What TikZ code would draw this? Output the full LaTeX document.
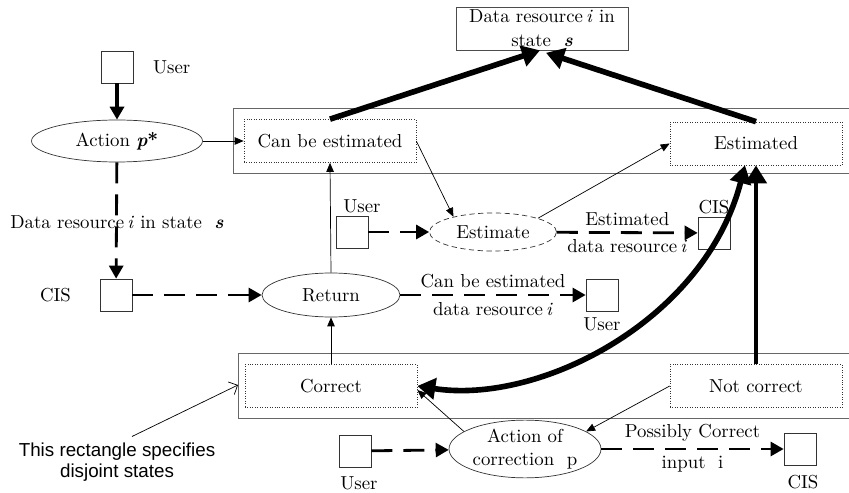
\documentclass[tikz,border=0pt]{standalone}
\usepackage{fontspec}
\newfontfamily\notefont{Liberation Sans}
\usetikzlibrary{arrows.meta, positioning, shapes.geometric}

\tikzset{
    smalltip/.tip={Triangle[length=0.18cm, width=0.15cm]},
    midtip/.tip={Triangle[length=0.26cm, width=0.28cm]},
    bigtip/.tip={Triangle[length=0.36cm, width=0.42cm]},
}

\begin{document}
\begin{tikzpicture}[x=0.02cm, y=-0.02cm,
    every node/.style={font=\fontsize{10.7}{13.5}\selectfont},
    statebox/.style={draw=black!80, densely dotted, minimum width=3.44cm, minimum height=0.86cm},
    actor/.style={draw=black!80, minimum size=0.64cm, inner sep=0pt},
    proc/.style={draw=black!80, ellipse, inner sep=0pt},
    pane/.style={draw=black!60, line width=0.5pt},
    thinflow/.style={-smalltip, line width=0.4pt},
    dataflow/.style={-midtip, line width=1.6pt, dash pattern=on 0.42cm off 0.22cm},
    bigflow/.style={-bigtip, line width=3.2pt}]
    \useasboundingbox (0,0) rectangle (849,493);

    % the two panes of disjoint states, open on the right
    \draw[pane] (849,108) -| (233,173) -- (849,173);
    \draw[pane] (849,353) -| (238,418) -- (849,418);
    \coordinate (paneedge) at (238,385);

    \node[draw=black!70, align=center, minimum width=3.44cm, minimum height=0.86cm, inner sep=0pt] (target) at (542,28.5) {Data resource\,\textit{i} in\\state \ \textbf{\textit{s}}};

    \node[actor] (user1) at (117,67) {};
    \node[right=0.27cm of user1] (user1lbl) {User};
    \node[proc, minimum width=3.42cm, minimum height=0.84cm] (act) at (117,141) {Action \textbf{\textit{p}*}};
    \node (reslbl) at (117,222) {Data resource\,\textit{i} in state \ \textbf{\textit{s}}};
    \node[actor] (cis1) at (116,295) {};
    \node[left=0.45cm of cis1] (cis1lbl) {CIS};

    \node[statebox] (canest) at (330,141) {Can be estimated};
    \node[statebox] (estd) at (756,143.5) {Estimated};
    \node[proc, minimum width=2.76cm, minimum height=0.88cm] (ret) at (331,295) {Return};
    \node[actor] (user2) at (352,232) {};
    \node[above=-2pt of user2, xshift=0.2cm] (user2lbl) {User};
    \node[proc, densely dashed, minimum width=2.54cm, minimum height=0.76cm] (est) at (493,232) {Estimate};
    \node[actor] (cis2) at (714,233) {};
    \node[above=-2pt of cis2] (cis2lbl) {CIS};
    \node[actor] (user3) at (602,295) {};
    \node[below=0pt of user3] (user3lbl) {User};

    \node[statebox] (corr) at (331,386) {Correct};
    \node[statebox] (ncorr) at (756,386) {Not correct};
    \node[actor] (user4) at (355,451) {};
    \node[below=2pt of user4, xshift=0.08cm] (user4lbl) {User};
    \node[proc, minimum width=3.04cm, minimum height=0.84cm, align=center] (fix) at (525,449) {Action of\\correction \ p};
    \node[actor] (cis3) at (800,449) {};
    \node[below=2pt of cis3, xshift=0.06cm] (cis3lbl) {CIS};

    \node[font=\notefont\fontsize{10.7}{12}\selectfont, align=center] (note) at (117,462) {This rectangle specifies\\disjoint states};

    % flows
    \draw[-midtip, line width=2.2pt] (user1) -- (act);
    \draw[dataflow] (act) -- (cis1);
    \draw[thinflow] (act) -- (canest);
    \draw[dataflow] (cis1) -- (ret);
    \draw[thinflow] (ret.north) -- (canest.south);
    \draw[dataflow] (user2) -- (est);
    \draw[thinflow] (canest.east) -- (est.159);
    \draw[thinflow] (est.17) -- (estd.west);
    \draw[dataflow] (est) -- (cis2)
        node[midway, above] (estlbl) {Estimated}
        node[midway, below] (estlbl2) {data resource\,\textit{i}};
    \draw[dataflow] (ret) -- (user3)
        node[midway, above] (retlbl) {Can be estimated}
        node[midway, below] (retlbl2) {data resource\,\textit{i}};
    \draw[thinflow] (corr.north) -- (ret.south);
    \draw[thinflow] (ncorr.west) -- (fix.16);
    \draw[thinflow] (fix.164) -- ([yshift=-0.08cm]corr.east);
    \draw[dataflow] (user4) -- (fix);
    \draw[dataflow] (fix) -- (cis3)
        node[midway, above] (fixlbl) {Possibly Correct}
        node[midway, below] (fixlbl2) {input \ i};

    % heavy arrows
    \draw[bigflow] (canest.north) -- ([xshift=-0.04cm]target.south);
    \draw[bigflow] (estd.north) -- ([xshift=0.08cm, yshift=-0.05cm]target.south);
    \draw[bigflow, line width=2.8pt] (ncorr.north) -- (estd.south);
    \draw[bigtip-bigtip, line width=3.2pt] (corr.east) .. controls (540,405) and (705,320) .. ([xshift=-0.22cm]estd.south);

    \draw[-{Straight Barb[length=0.14cm]}, line width=0.4pt] ([xshift=0.3cm]note.north) -- (paneedge);
\end{tikzpicture}
\end{document}
